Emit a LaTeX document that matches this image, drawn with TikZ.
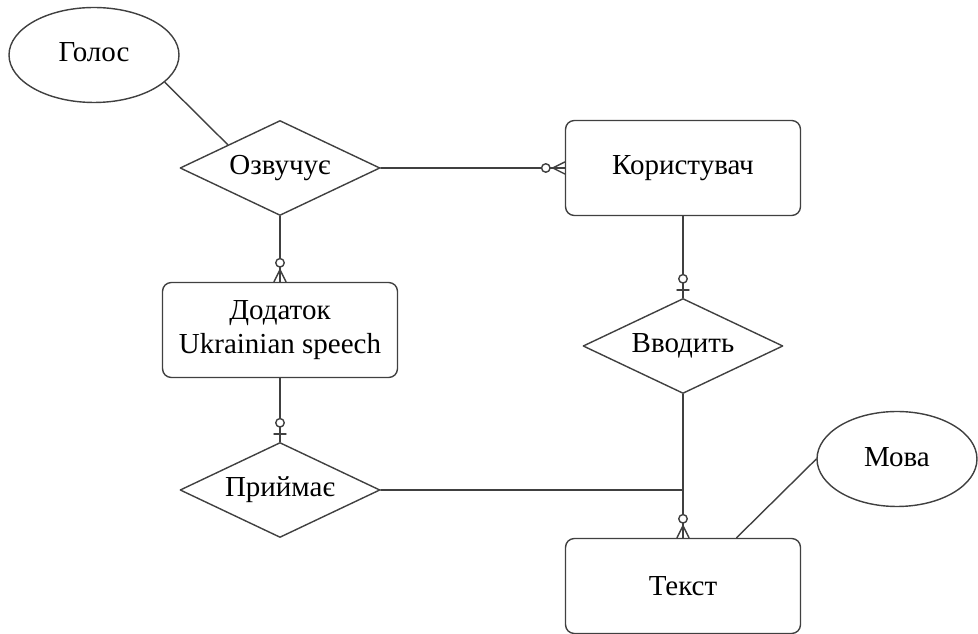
\documentclass[tikz,border=0pt]{standalone}
\usepackage{fontspec}
\setmainfont{Liberation Serif}
\usetikzlibrary{shapes.geometric,calc}

\begin{document}
\begin{tikzpicture}[x=0.02cm,y=-0.02cm, line join=round, line cap=round,
    font=\fontsize{16.5}{19}\selectfont, color=black!75, line width=0.8pt,
    entity/.style={draw, text=black, rounded corners=5pt, minimum width=4.7cm, minimum height=1.9cm, align=center},
    relation/.style={draw, text=black, diamond, aspect=2.1, inner sep=0pt, minimum width=4cm, minimum height=1.9cm},
    attribute/.style={draw, text=black, ellipse, inner sep=0pt, minimum width=3.4cm, minimum height=1.9cm}]
    % zero-or-many and zero-or-one ends: anchor, direction
    \def\manyend[#1,#2,#3]{
        \draw ($(#1)-12*(#2,#3)$) -- ($(#1)+6*(#3,#2)$);
        \draw ($(#1)-12*(#2,#3)$) -- ($(#1)-6*(#3,#2)$);
        \draw[fill=white] ($(#1)-19*(#2,#3)$) circle (0.085cm);}
    \def\oneend[#1,#2,#3]{
        \draw ($(#1)-8*(#2,#3)+6*(#3,#2)$) -- ($(#1)-8*(#2,#3)-6*(#3,#2)$);
        \draw[fill=white] ($(#1)-19*(#2,#3)$) circle (0.085cm);}
    \useasboundingbox (0,0) rectangle (978,634);

    \node[attribute] (golos) at (94,55) {\raisebox{0.12cm}{Голос}};
    \node[relation] (ozv) at (280,168) {Озвучує};
    \node[entity] (korys) at (683,168) {Користувач};
    \node[entity] (dodatok) at (280,330) {Додаток\\Ukrainian speech};
    \node[relation] (vvod) at (683,346) {Вводить};
    \node[relation] (pryim) at (280,490) {Приймає};
    \node[entity] (tekst) at (683,586) {Текст};
    \node[attribute, minimum width=3.2cm] (mova) at (897,459) {\raisebox{0.08cm}{Мова}};

    \draw (golos.-21) -- (ozv.156);
    \draw (ozv.east) -- (korys.west);
    \draw (ozv.south) -- (dodatok.north);
    \draw (dodatok.south) -- (pryim.north);
    \draw (korys.south) -- (vvod.north);
    \draw (vvod.south) -- (tekst.north);
    \draw (pryim.east) -- (pryim.east -| tekst.north);
    \draw (mova.west) -- (tekst.42);

    \manyend[korys.west,1,0]
    \manyend[dodatok.north,0,1]
    \manyend[tekst.north,0,1]
    \oneend[pryim.north,0,1]
    \oneend[vvod.north,0,1]
\end{tikzpicture}
\end{document}
